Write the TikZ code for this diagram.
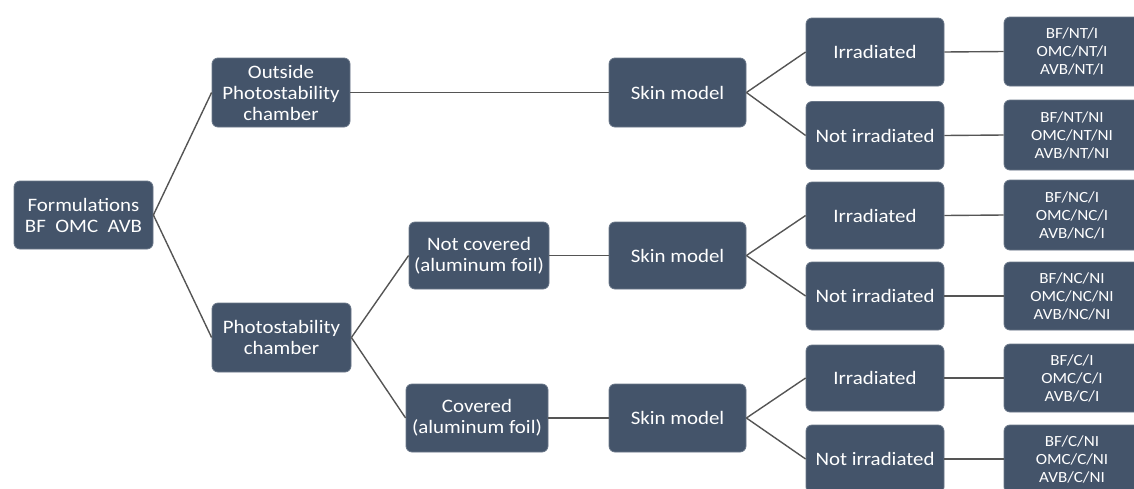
\documentclass[tikz,border=0pt]{standalone}
\usepackage{fontspec}
\setmainfont[FakeStretch=1.1]{Carlito}
\definecolor{boxfill}{HTML}{44546A}
\definecolor{linecol}{HTML}{555555}
\begin{document}
\begin{tikzpicture}[x=1pt,y=-1pt,
  box/.style={draw=boxfill!80!white, line width=0.8pt, fill=boxfill, rounded corners=6pt, text=white,
    align=center, inner sep=2pt, minimum width=138pt, minimum height=68pt,
    font=\fontsize{19}{21}\selectfont},
  resbox/.style={box, minimum width=136pt, font=\fontsize{15.5}{18}\selectfont},
  conn/.style={draw=linecol, line width=1.4pt}]
\useasboundingbox (0,0) rectangle (1134,488);
\clip (0,0) rectangle (1134,488);
\node[box, minimum width=139pt] (form) at (83.5,215) {Formulations\\BF\enspace OMC\enspace AVB};
\node[box, minimum height=69pt] (out) at (281,92.5) {Outside\\Photostability\\chamber};
\node[box, minimum width=139pt, minimum height=69pt] (pc) at (281.5,337.5) {Photostability\\chamber};
\node[box, minimum width=140pt, minimum height=67pt] (nc) at (479,255.5) {Not covered\\(aluminum foil)};
\node[box, minimum width=142pt] (cov) at (477,418) {Covered\\(aluminum foil)};
\node[box, minimum width=137pt, minimum height=69pt] (sk1) at (677.5,92.5) {Skin model};
\node[box, minimum width=137pt, minimum height=67pt] (sk2) at (677.5,255.5) {Skin model};
\node[box, minimum width=137pt] (sk3) at (677.5,418) {Skin model};
\node[box] (irr1) at (875,52) {Irradiated};
\node[box] (ni1) at (875,135.5) {Not irradiated};
\node[box, minimum height=67pt] (irr2) at (875,215.5) {Irradiated};
\node[box] (ni2) at (875,296) {Not irradiated};
\node[box, minimum height=66pt] (irr3) at (875,378) {Irradiated};
\node[box] (ni3) at (875,459) {Not irradiated};
\node[resbox, minimum height=69pt] (r1) at (1072,51.5) {BF/NT/I\\OMC/NT/I\\AVB/NT/I};
\node[resbox, minimum height=70pt] (r2) at (1072,135) {BF/NT/NI\\OMC/NT/NI\\AVB/NT/NI};
\node[resbox, minimum height=70pt] (r3) at (1072,215) {BF/NC/I\\OMC/NC/I\\AVB/NC/I};
\node[resbox] (r4) at (1072,296) {BF/NC/NI\\OMC/NC/NI\\AVB/NC/NI};
\node[resbox] (r5) at (1072,378) {BF/C/I\\OMC/C/I\\AVB/C/I};
\node[resbox] (r6) at (1072,459) {BF/C/NI\\OMC/C/NI\\AVB/C/NI};
\draw[conn] (form.east) -- (out.west);
\draw[conn] (form.east) -- (pc.west);
\draw[conn] (out.east) -- (sk1.west);
\draw[conn] (pc.east) -- (nc.west);
\draw[conn] (pc.east) -- (cov.west);
\draw[conn] (nc.east) -- (sk2.west);
\draw[conn] (cov.east) -- (sk3.west);
\draw[conn] (sk1.east) -- (irr1.west);
\draw[conn] (sk1.east) -- (ni1.west);
\draw[conn] (sk2.east) -- (irr2.west);
\draw[conn] (sk2.east) -- (ni2.west);
\draw[conn] (sk3.east) -- (irr3.west);
\draw[conn] (sk3.east) -- (ni3.west);
\draw[conn] (irr1.east) -- (r1.west);
\draw[conn] (ni1.east) -- (r2.west);
\draw[conn] (irr2.east) -- (r3.west);
\draw[conn] (ni2.east) -- (r4.west);
\draw[conn] (irr3.east) -- (r5.west);
\draw[conn] (ni3.east) -- (r6.west);
\end{tikzpicture}
\end{document}
